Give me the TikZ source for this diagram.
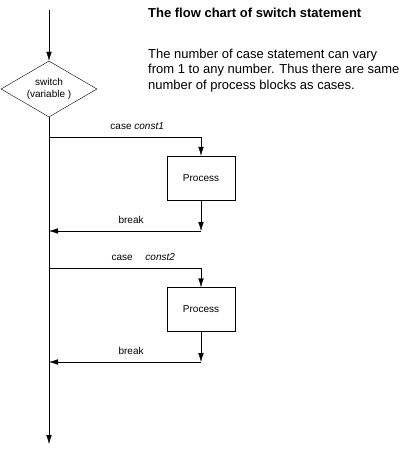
\documentclass[tikz,border=0pt]{standalone}
\usepackage{fontspec}
\setmainfont{Liberation Sans}
\usetikzlibrary{shapes.geometric,positioning,arrows.meta}
\tikzset{
->,
>={Latex[length=9pt,width=5.5pt]},
line width=0.9pt,
node distance=131.5pt,
every node/.style={font=\fontsize{10}{11.5}\selectfont},
decision/.style={diamond, draw, thin, aspect=1.7, minimum width=96pt, minimum height=56pt, inner sep=0pt, align=center},
process/.style={rectangle, draw, thin, minimum width=68pt, minimum height=44pt},
tag/.style={inner sep=0pt, above=7pt},
}

\begin{document}
\begin{tikzpicture}[x=1pt,y=-1pt]
    \useasboundingbox (0,0) rectangle (412,452);

    \node[decision] (sw) at (49,89) {switch\\(variable )};
    \node[process] (p1) at (201,178) {Process};
    \node[process,below of=p1] (p2) {Process};

    \coordinate (start) at (49,10);
    \coordinate (end) at (49,444);
    \coordinate (c1) at (49,137);
    \coordinate (c1r) at (p1 |- c1);
    \coordinate (b1r) at (201,231);
    \coordinate (b1l) at (49,231);
    \coordinate (c2) at (49,268);
    \coordinate (c2r) at (p2 |- c2);
    \coordinate (b2r) at (201,362);
    \coordinate (b2l) at (49,362);

    \node[anchor=base west,inner sep=0pt,font=\fontsize{13}{15}\bfseries] (title) at (148,18) {The flow chart of switch statement};
    \node[anchor=north west,inner sep=0pt,align=left,font=\fontsize{13}{15.5}\selectfont] (note) at (148,48.5) {The number of case statement can vary\\from 1 to any number. Thus there are same\\number of process blocks as cases.};

    \draw (start) -- (sw);
    \draw (sw) -- (end);
    \draw (c1) -- node[tag,pos=0.58]{case \textit{const1}} (c1r) -- (p1);
    \draw (p1) -- (b1r);
    \draw (b1r) -- node[tag,pos=0.46]{break} (b1l);
    \draw (c2) -- node[tag,pos=0.62]{case \quad\textit{const2}} (c2r) -- (p2);
    \draw (p2) -- (b2r);
    \draw (b2r) -- node[tag,pos=0.46]{break} (b2l);

\end{tikzpicture}
\end{document}
